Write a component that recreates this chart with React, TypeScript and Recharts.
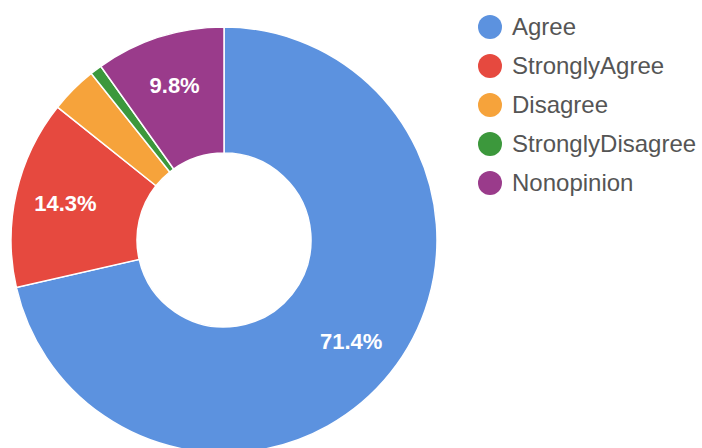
import { PieChart, Pie, Cell, Legend } from 'recharts';

const categories = ['Agree', 'StronglyAgree', 'Disagree', 'StronglyDisagree', 'Nonopinion'];
const counts = [80, 16, 4, 1, 11];
const colors = ['#5c92df', '#e6493f', '#f6a33b', '#3c983c', '#9a3b8b'];

const data = categories.map((name, i) => ({ name, value: counts[i] }));
const total = counts.reduce((a, b) => a + b, 0);

const RADIAN = Math.PI / 180;
const FONT = "'Liberation Sans', Arial, sans-serif";

// labels only on the slices that are big enough to hold them
const renderLabel = ({ cx, cy, midAngle, innerRadius, outerRadius, value }: any) => {
  const share = value / total;
  if (share < 0.05) return null;
  const r = innerRadius + (outerRadius - innerRadius) * 0.6;
  const x = cx + r * Math.cos(-midAngle * RADIAN);
  const y = cy + r * Math.sin(-midAngle * RADIAN);
  return (
    <text x={x} y={y} fill="#ffffff" textAnchor="middle" dominantBaseline="central"
      fontSize={22} fontWeight="bold" fontFamily={FONT}>
      {`${(share * 100).toFixed(1)}%`}
    </text>
  );
};

// keep the legend in data order (recharts sorts by name otherwise)
const renderLegend = () => (
  <div>
    {categories.map((name, i) => (
      <div key={name} style={{ display: 'flex', alignItems: 'center', height: 39 }}>
        <span style={{
          width: 24, height: 24, borderRadius: '50%', background: colors[i],
          display: 'inline-block', marginRight: 10, flexShrink: 0
        }} />
        <span style={{ color: '#555555', fontSize: 24, fontFamily: FONT, whiteSpace: 'nowrap' }}>
          {name}
        </span>
      </div>
    ))}
  </div>
);

export default function App() {
  return (
    <div style={{ position: 'absolute', left: 0, top: 0, background: '#fff' }}>
      <PieChart width={702} height={448} margin={{ top: 0, right: 0, bottom: 0, left: 0 }}>
        <Pie
          data={data}
          dataKey="value"
          nameKey="name"
          cx={224}
          cy={240}
          innerRadius={87}
          outerRadius={213}
          startAngle={90}
          endAngle={-270}
          stroke="#ffffff"
          strokeWidth={1.5}
          label={renderLabel}
          labelLine={false}
          isAnimationActive={false}
        >
          {data.map((d, i) => (
            <Cell key={d.name} fill={colors[i]} />
          ))}
        </Pie>
        <Legend
          layout="vertical"
          align="right"
          verticalAlign="top"
          content={renderLegend}
          wrapperStyle={{ left: 478, top: 7, width: 224 }}
        />
      </PieChart>
    </div>
  );
}
